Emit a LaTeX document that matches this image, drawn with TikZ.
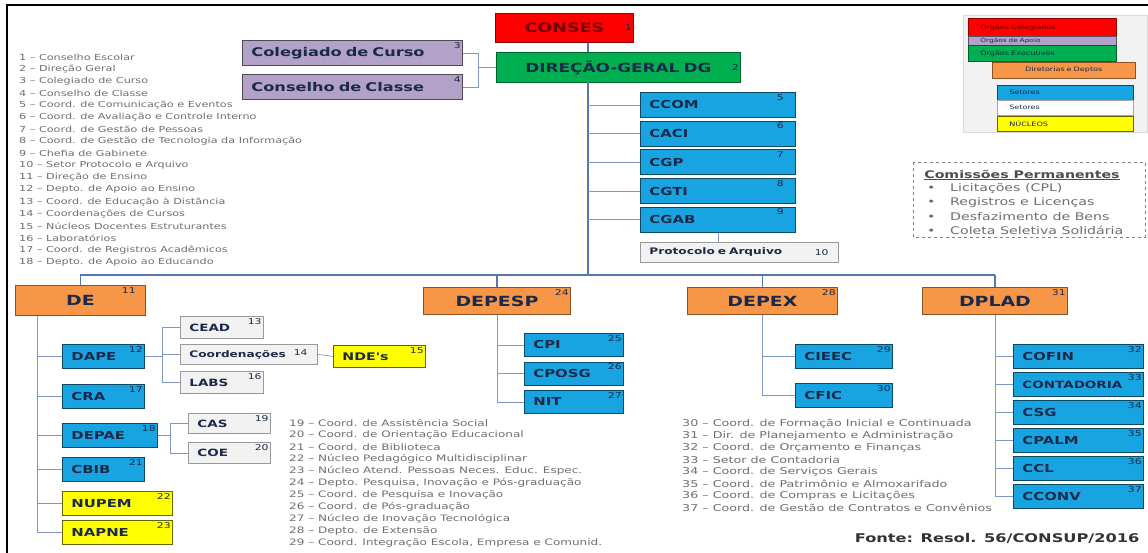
\documentclass[tikz,border=0pt]{standalone}
\usepackage{fontspec}
\setmainfont{DejaVu Sans}
\newfontfamily\wfont[FakeStretch=1.35]{DejaVu Sans}

\definecolor{cred}{HTML}{FF0000}
\definecolor{cgreen}{HTML}{00B050}
\definecolor{cpurple}{HTML}{B3A2C7}
\definecolor{corange}{HTML}{F79646}
\definecolor{cblue}{HTML}{18A4E0}
\definecolor{cyellow}{HTML}{FFFF00}
\definecolor{cgrey}{HTML}{F2F2F2}
\definecolor{cline}{HTML}{5676B0}
\definecolor{ctext}{HTML}{1B2A4A}
\definecolor{clist}{HTML}{6E6E6E}

\tikzset{
  unit/.style={rectangle, draw, line width=0.9pt, inner xsep=9pt, inner ysep=0pt, align=left, anchor=north west, text=ctext, font=\wfont\bfseries\fontsize{11}{12}\selectfont},
  colbox/.style={unit, fill=cred, draw=cred!55!black, text=cred!45!black, align=center, font=\wfont\bfseries\fontsize{13}{14}\selectfont},
  exebox/.style={unit, fill=cgreen, draw=cgreen!55!black, align=center, font=\wfont\bfseries\fontsize{12.5}{14}\selectfont},
  apobox/.style={unit, fill=cpurple, draw=cpurple!45!black, font=\wfont\bfseries\fontsize{12}{14}\selectfont},
  dirbox/.style={unit, fill=corange, draw=corange!55!black, align=center, font=\wfont\bfseries\fontsize{14}{15}\selectfont},
  setbox/.style={unit, fill=cblue, draw=cblue!45!black},
  secbox/.style={unit, fill=cgrey, draw=gray!80, line width=0.8pt, font=\wfont\bfseries\fontsize{10}{12}\selectfont},
  nucbox/.style={unit, fill=cyellow, draw=cyellow!40!black},
  num/.style={anchor=north east, inner sep=2pt, text=ctext, font=\wfont\fontsize{8}{8}\selectfont},
  numr/.style={num, anchor=east},
  link/.style={draw=cline!75, line width=0.7pt},
  trunk/.style={draw=cline, line width=1.3pt},
  item/.style={anchor=west, inner sep=0pt, text=clist, font=\wfont\fontsize{8.3}{10}\selectfont},
  key/.style={rectangle, draw, line width=0.6pt, inner xsep=12pt, inner ysep=0pt, anchor=north west, align=left, text=ctext, font=\wfont\fontsize{6}{7}\selectfont},
}

\begin{document}
\begin{tikzpicture}[x=1pt, y=-1pt]
\useasboundingbox (0,0) rectangle (1148,553);
\draw[line width=1.4pt] (7,553) -- (7,5) -- (1148,5);

% top units
\node[colbox, text width=120, minimum height=29, label={[numr]east:1}] (conses) at (495,13) {CONSES};
\node[exebox, text width=226, minimum height=30, label={[numr]east:2}] (dg) at (496,52) {DIREÇÃO-GERAL DG};
\node[apobox, text width=202, minimum height=25, label={[num]north east:3}] (colc) at (242,40) {Colegiado de Curso};
\node[apobox, text width=202, minimum height=25, label={[num]north east:4}] (ccla) at (242,74) {Conselho de Classe};

\coordinate (tr) at (588,82);
\coordinate (pb) at (478,0);
\coordinate (bus) at (588,275);
\draw[trunk] (conses.south -| tr) -- (dg.north -| tr);
\draw[trunk] (tr) -- (bus);
\draw[link] (colc.east) -- (colc.east -| pb) -- (ccla.east -| pb) -- (ccla.east);
\draw[link] (dg.west) -- (dg.west -| pb);

\foreach \n/\t/\k [count=\i from 0] in {ccom/CCOM/5, caci/CACI/6, cgp/CGP/7, cgti/CGTI/8, cgab/CGAB/9}{
  \node[setbox, text width=137, minimum height=25, label={[num, xshift=-10pt]north east:\k}] (\n) at (640,{92+28.7*\i}) {\t};
  \draw[link] (\n.west) -- (\n.west -| tr);
}
\node[secbox, font=\wfont\bfseries\fontsize{9}{10}\selectfont, text width=180, minimum height=20, label={[numr, xshift=-8pt]east:10}] (prot) at (640,242) {Protocolo e Arquivo};
\draw[link] (cgab.south) -- (cgab.south |- prot.north);

% directorates
\node[dirbox, text width=112, minimum height=30, label={[num, xshift=-8pt]north east:11}] (de) at (15,285) {DE};
\node[dirbox, text width=129, minimum height=27, label={[num]north east:24}] (depesp) at (423,287) {DEPESP};
\node[dirbox, text width=132, minimum height=27, label={[num]north east:28}] (depex) at (687,287) {DEPEX};
\node[dirbox, text width=127, minimum height=27, label={[num]north east:31}] (dplad) at (922,287) {DPLAD};
\draw[trunk] (de.north |- bus) -- (dplad.north |- bus);
\foreach \n in {de, depesp, depex, dplad}
  \draw[trunk] (\n.north |- bus) -- (\n.north);

% DE
\coordinate (dev) at (37,0);
\foreach \n/\t/\k/\y/\w/\s in {dape/DAPE/12/344/64/setbox, cra/CRA/17/384/64/setbox, depae/DEPAE/18/423/77/setbox, cbib/CBIB/21/457/64/setbox, nupem/NUPEM/22/491/92/nucbox, napne/NAPNE/23/520/92/nucbox}{
  \node[\s, text width=\w, minimum height=24, label={[num]north east:\k}] (\n) at (62,\y) {\t};
  \draw[link] (\n.west) -- (\n.west -| dev);
}
\draw[link] (de.south -| dev) -- (napne.west -| dev);

\node[secbox, text width=65, minimum height=22, label={[num]north east:13}] (cead) at (180,316) {CEAD};
\node[secbox, font=\wfont\bfseries\fontsize{9}{10}\selectfont, text width=119, minimum height=20, label={[numr, xshift=-8pt, yshift=2pt]east:14}] (coord) at (180,344) {Coordenações};
\node[secbox, text width=65, minimum height=22, label={[num]north east:16}] (labs) at (180,371) {LABS};
\node[nucbox, font=\wfont\bfseries\fontsize{10.5}{12}\selectfont, text width=74, minimum height=22, label={[num]north east:15}] (nde) at (333,345) {NDE's};
\coordinate (dab) at (162,0);
\draw[link] (dape.east) -- (dape.east -| dab);
\draw[link] (cead.west -| dab) -- (labs.west -| dab);
\foreach \n in {cead, coord, labs}
  \draw[link] (\n.west) -- (\n.west -| dab);
\draw[link] (coord.east) -- (nde.west);

\node[secbox, text width=64, minimum height=20, label={[num]north east:19}] (cas) at (188,413) {CAS};
\node[secbox, text width=64, minimum height=21, label={[num]north east:20}] (coe) at (188,442) {COE};
\coordinate (dpb) at (170,0);
\draw[link] (depae.east) -- (depae.east -| dpb);
\draw[link] (cas.west -| dpb) -- (coe.west -| dpb);
\foreach \n in {cas, coe}
  \draw[link] (\n.west) -- (\n.west -| dpb);

% DEPESP
\foreach \n/\t/\k [count=\i from 0] in {cpi/CPI/25, cposg/CPOSG/26, nit/NIT/27}{
  \node[setbox, text width=81, minimum height=23, label={[num]north east:\k}] (\n) at (524,{333+28.5*\i}) {\t};
  \draw[link] (\n.west) -- (\n.west -| depesp.south);
}
\draw[link] (depesp.south) -- (nit.west -| depesp.south);

% DEPEX
\foreach \n/\t/\k [count=\i from 0] in {cieec/CIEEC/29, cfic/CFIC/30}{
  \node[setbox, text width=79, minimum height=24, label={[num]north east:\k}] (\n) at (795,{344+39*\i}) {\t};
  \draw[link] (\n.west) -- (\n.west -| depex.south);
}
\draw[link] (depex.south) -- (cfic.west -| depex.south);

% DPLAD
\foreach \n/\t/\k [count=\i from 0] in {cofin/COFIN/32, conta/{\fontsize{10}{12}\selectfont CONTADORIA}/33, csg/CSG/34, cpalm/CPALM/35, ccl/CCL/36, cconv/CCONV/37}{
  \node[setbox, text width=112, minimum height=24, label={[num]north east:\k}] (\n) at (1013,{344+28*\i}) {\t};
  \draw[link] (\n.west) -- (\n.west -| dplad.south);
}
\draw[link] (dplad.south) -- (cconv.west -| dplad.south);

% numbered lists
\foreach \t [count=\i] in {Conselho Escolar, Direção Geral, Colegiado de Curso, Conselho de Classe, Coord. de Comunicação e Eventos, Coord. de Avaliação e Controle Interno, Coord. de Gestão de Pessoas, Coord. de Gestão de Tecnologia da Informação, Chefia de Gabinete, Setor Protocolo e Arquivo, Direção de Ensino, Depto. de Apoio ao Ensino, Coord. de Educação à Distância, Coordenações de Cursos, Núcleos Docentes Estruturantes, Laboratórios, Coord. de Registros Acadêmicos, Depto. de Apoio ao Educando}
  \node[item] (la\i) at (19,{45+12.05*\i}) {\i\ – \t};
\foreach \t [count=\i from 19] in {Coord. de Assistência Social, Coord. de Orientação Educacional, Coord. de Biblioteca, Núcleo Pedagógico Multidisciplinar, Núcleo Atend. Pessoas Neces. Educ. Espec., {Depto. Pesquisa, Inovação e Pós-graduação}, Coord. de Pesquisa e Inovação, Coord. de Pós-graduação, Núcleo de Inovação Tecnológica, Depto. de Extensão, {Coord. Integração Escola, Empresa e Comunid.}}
  \node[item, font=\wfont\fontsize{8.9}{10}\selectfont] (lb\i) at (289,{423+12*(\i-19)}) {\i\ – \t};
\foreach \t [count=\i from 30] in {Coord. de Formação Inicial e Continuada, Dir. de Planejamento e Administração, Coord. de Orçamento e Finanças, Setor de Contadoria, Coord. de Serviços Gerais, Coord. de Patrimônio e Almoxarifado, Coord. de Compras e Licitações, Coord. de Gestão de Contratos e Convênios}
  \node[item, font=\wfont\fontsize{9.4}{10}\selectfont] (lc\i) at (682,{424+12*(\i-30)}) {\i\ – \t};

% key
\draw[fill=gray!10, draw=gray!30] (963,15) rectangle (1147,132);
\node[key, fill=cred, draw=cred!60!black, text=cred!40!black, text width=124, minimum height=18] (kcol) at (968,18) {Órgãos Colegiados};
\node[key, fill=cpurple, draw=cpurple!50!black, text width=124, minimum height=9, font=\wfont\fontsize{5.5}{6}\selectfont] (kapo) at (968,36) {Órgãos de Apoio};
\node[key, fill=cgreen, draw=cgreen!55!black, text width=124, minimum height=16] (kexe) at (968,45) {Órgãos Executivos};
\node[key, fill=corange, draw=corange!55!black, text width=119, minimum height=16, align=center] (kdir) at (992,62) {Diretorias e Deptos};
\node[key, fill=cblue, draw=cblue!45!black, text width=112, minimum height=15] (kset) at (997,85) {Setores};
\node[key, fill=white, draw=gray!70, text width=112, minimum height=15] (ksec) at (997,100) {Setores};
\node[key, fill=cyellow, draw=cyellow!40!black, text width=112, minimum height=15] (knuc) at (997,116) {NÚCLEOS};

% commissions
\draw[gray, dashed, line width=0.8pt] (913,162) rectangle (1145,237);
\node[text=clist!70!black, font=\wfont\bfseries\fontsize{10.5}{12}\selectfont] (cptit) at (1022,175) {\underline{Comissões Permanentes}};
\foreach \t [count=\i from 0] in {Licitações (CPL), Registros e Licenças, Desfazimento de Bens, Coleta Seletiva Solidária}
  \node[item, font=\wfont\fontsize{10.5}{12}\selectfont] (cp\i) at (927,{188+14.2*\i}) {\makebox[23pt][l]{\textbullet}\t};

\node[anchor=east, text=black!80, font=\wfont\bfseries\fontsize{12}{14}\selectfont] (fonte) at (1143,538) {Fonte: Resol. 56/CONSUP/2016};
\end{tikzpicture}
\end{document}
